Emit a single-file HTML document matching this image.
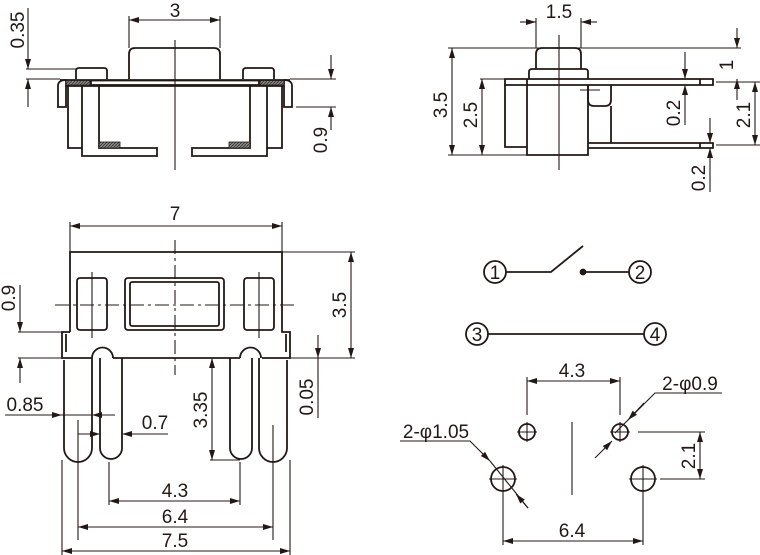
<!DOCTYPE html>
<html><head><style>
html,body{margin:0;padding:0;background:#fff;}
svg{display:block;}
text{font-family:"Liberation Sans",Arial,sans-serif;font-size:19px;fill:#231815;}
</style></head><body>
<svg width="760" height="555" viewBox="0 0 760 555" xmlns="http://www.w3.org/2000/svg">
<defs>
<marker id="a" viewBox="0 0 10 6" refX="10" refY="3" markerWidth="11" markerHeight="6" orient="auto-start-reverse" markerUnits="userSpaceOnUse"><path d="M0,0 L10,3 L0,6 z" fill="#231815"/></marker>
<pattern id="h" width="3" height="3" patternUnits="userSpaceOnUse"><rect width="3" height="3" fill="#888"/><path d="M0,3 L3,0" stroke="#333" stroke-width="0.8"/></pattern>
</defs>
<g fill="none" stroke="#231815" stroke-width="1.8">
<!-- TOP LEFT VIEW -->
<path d="M129,79 V54 Q129,48 135,48 H214 Q220,48 220,54 V79"/>
<path d="M76,79 V71 Q76,68 79,68 H104 Q107,68 107,71 V79 M243,79 V71 Q243,68 246,68 H271 Q274,68 274,71 V79"/>
<path d="M60,80 H290 M66,80 V86 H284 V80"/>
<path d="M66,80 Q58,80 58,86 V107 H66 V86 M284,80 Q292,80 292,86 V107 H284 V86"/>
<rect x="91" y="80.5" width="168" height="4.5"/>
<path d="M68,86 V148 H82 M282,86 V148 H267"/>
<path d="M82,86 V156 H157 V148 H99 V86 M267,86 V156 H192 V148 H250 V86"/>
<rect x="66" y="80.5" width="24" height="4.5" fill="url(#h)" stroke-width="0.8"/>
<rect x="260" y="80.5" width="24" height="4.5" fill="url(#h)" stroke-width="0.8"/>
<rect x="99" y="142" width="21" height="6" fill="url(#h)" stroke-width="0.8"/>
<rect x="229" y="142" width="21" height="6" fill="url(#h)" stroke-width="0.8"/>
<g stroke-width="1.1">
<path d="M175,40 V170"/>
<path d="M129,16 V48 M220,16 V48"/>
<path d="M129,20 H220" marker-start="url(#a)" marker-end="url(#a)"/>
<path d="M26,69 H76 M26,79 H60"/>
<path d="M28,8 V69" marker-end="url(#a)"/><path d="M28,107 V79" marker-end="url(#a)"/>
<path d="M290,79 H336 M296,107 H336"/>
<path d="M331,55 V79" marker-end="url(#a)"/><path d="M331,130 V107" marker-end="url(#a)"/>
</g>

<!-- TOP RIGHT VIEW -->
<path d="M536,69 V54 Q536,48 542,48 H575 Q581,48 581,54 V69"/>
<path d="M529,79 V72 Q529,69 532,69 H585 Q588,69 588,72 V79"/>
<path d="M505,79 H713 V85 H505 Z M700,79 V85"/>
<path d="M505,85 V147 H527 M527,79 V155 H588 V85"/>
<path d="M588,85 V100 Q588,106 594,106 H605 Q611,106 611,100 V85 M611,106 V143"/>
<path d="M588,143 H713 V148 H588 M700,143 V148"/>
<g stroke-width="1.1">
<path d="M559,35 V170 M580,90 H600"/>
<path d="M536,18 V48 M581,18 V48"/>
<path d="M520,22 H536" marker-end="url(#a)"/><path d="M597,22 H581" marker-end="url(#a)"/>
<path d="M448,48 H741 M448,155 H527 M480,79 H505"/>
<path d="M452,48 V155" marker-start="url(#a)" marker-end="url(#a)"/>
<path d="M482,79 V155" marker-start="url(#a)" marker-end="url(#a)"/>
<path d="M685,52 V79" marker-end="url(#a)"/><path d="M685,125 V85" marker-end="url(#a)"/>
<path d="M737,28 V48" marker-end="url(#a)"/><path d="M737,100 V79" marker-end="url(#a)"/>
<path d="M716,82 H760 M716,145 H760"/>
<path d="M755,82 V145" marker-start="url(#a)" marker-end="url(#a)"/>
<path d="M710,118 V143" marker-end="url(#a)"/><path d="M710,192 V148" marker-end="url(#a)"/>
</g>

<!-- BOTTOM LEFT VIEW -->
<path d="M70,332 V252 H282 V332 H290 V358 H262 M70,332 H62 V358 H92"/>
<path d="M113,358 H240"/>
<rect x="77" y="278" width="30" height="52" rx="3"/>
<rect x="244" y="278" width="30" height="52" rx="3"/>
<rect x="125" y="278" width="99" height="52" rx="3"/>
<rect x="130" y="282" width="89" height="44" rx="2"/>
<path d="M92,358 A10.5,10.5 0 0 1 113,358 M240,358 A10.5,10.5 0 0 1 261,358"/>
<path d="M64,360 V448 A14,14 0 0 0 92,448 V358 M100,358 V448 A11,11 0 0 0 122,448 V358"/>
<path d="M230,358 V448 A11,11 0 0 0 252,448 V358 M259,358 V448 A14,14 0 0 0 287,448 V360"/>
<path d="M66,334 V352 M286,334 V352"/>
<g stroke-width="1.1">
<path d="M55,305 H297" stroke-dasharray="14,4,3,4"/>
<path d="M175,240 V375" stroke-dasharray="14,4,3,4"/>
<path d="M92,272 V338 M259,272 V338"/>
<path d="M70,222 V252 M282,222 V252"/>
<path d="M70,226 H282" marker-start="url(#a)" marker-end="url(#a)"/>
<path d="M282,252 H355 M262,358 H355"/>
<path d="M351,252 V358" marker-start="url(#a)" marker-end="url(#a)"/>
<path d="M18,332 H62 M18,358 H62"/>
<path d="M20,285 V332" marker-end="url(#a)"/><path d="M20,383 V358" marker-end="url(#a)"/>
<path d="M318,335 V358" marker-end="url(#a)"/><path d="M318,418 V358"/>
<path d="M300,358 H325"/>
<path d="M5,415 H62" marker-end="url(#a)"/><path d="M115,415 H92" marker-end="url(#a)"/><path d="M62,415 H92"/>
<path d="M168,434 H122" marker-end="url(#a)"/><path d="M78,434 H100" marker-end="url(#a)"/>
<path d="M212,358 V460" marker-start="url(#a)" marker-end="url(#a)"/>
<path d="M210,460 H240"/>
<path d="M78,420 V540 M109,462 V505 M240,462 V505 M273,425 V540 M62,460 V555 M290,460 V555"/>
<path d="M109,501 H240" marker-start="url(#a)" marker-end="url(#a)"/>
<path d="M78,527 H273" marker-start="url(#a)" marker-end="url(#a)"/>
<path d="M62,551 H290" marker-start="url(#a)" marker-end="url(#a)"/>
</g>

<!-- SCHEMATIC -->
<circle cx="495" cy="272" r="11"/><circle cx="640" cy="272" r="11"/>
<circle cx="477" cy="334" r="11"/><circle cx="655" cy="334" r="11"/>
<path d="M506,272 H551 L583,246 M583,272 H629 M488,334 H644"/>
<circle cx="583" cy="272" r="2.5" fill="#231815"/>

<!-- FOOTPRINT -->
<circle cx="527" cy="432" r="8"/><circle cx="620" cy="432" r="8"/>
<circle cx="503" cy="479" r="12"/><circle cx="643" cy="479" r="12"/>
<g stroke-width="1.1">
<path d="M517,432 H537 M527,422 V442 M610,432 H630 M620,422 V442"/>
<path d="M489,479 H517 M503,465 V493 M629,479 H657 M643,465 V493"/>
<path d="M572,422 V495"/>
<path d="M527,377 V415 M620,377 V415"/>
<path d="M527,381 H620" marker-start="url(#a)" marker-end="url(#a)"/>
<path d="M722,393 H655 L632,416" /><path d="M632,416 L615,433"/>
<path d="M644,403 L628,420" marker-end="url(#a)"/>
<path d="M595,458 L612,441" marker-end="url(#a)"/>
<path d="M400,441 H470 L490,461" marker-end="url(#a)"/>
<path d="M490,461 L528,508"/>
<path d="M528,508 L516,494" marker-end="url(#a)"/>
<path d="M638,432 H705 M660,479 H705"/>
<path d="M700,432 V479" marker-start="url(#a)" marker-end="url(#a)"/>
<path d="M503,493 V545 M643,493 V545"/>
<path d="M503,541 H643" marker-start="url(#a)" marker-end="url(#a)"/>
</g>
</g>

<!-- TEXT -->
<text x="175" y="17" text-anchor="middle">3</text>
<text transform="translate(24,30) rotate(-90)" text-anchor="middle">0.35</text>
<text transform="translate(327,140) rotate(-90)" text-anchor="middle">0.9</text>
<text x="559" y="18" text-anchor="middle">1.5</text>
<text transform="translate(447,105) rotate(-90)" text-anchor="middle">3.5</text>
<text transform="translate(477,115) rotate(-90)" text-anchor="middle">2.5</text>
<text transform="translate(680,113) rotate(-90)" text-anchor="middle">0.2</text>
<text transform="translate(733,65) rotate(-90)" text-anchor="middle">1</text>
<text transform="translate(750,115) rotate(-90)" text-anchor="middle">2.1</text>
<text transform="translate(705,178) rotate(-90)" text-anchor="middle">0.2</text>
<text x="175" y="220" text-anchor="middle">7</text>
<text transform="translate(346,305) rotate(-90)" text-anchor="middle">3.5</text>
<text transform="translate(15,298) rotate(-90)" text-anchor="middle">0.9</text>
<text transform="translate(313,397) rotate(-90)" text-anchor="middle">0.05</text>
<text x="25" y="411" text-anchor="middle">0.85</text>
<text x="155" y="429" text-anchor="middle">0.7</text>
<text transform="translate(207,410) rotate(-90)" text-anchor="middle">3.35</text>
<text x="175" y="497" text-anchor="middle">4.3</text>
<text x="175" y="523" text-anchor="middle">6.4</text>
<text x="175" y="547" text-anchor="middle">7.5</text>
<text x="495" y="279" text-anchor="middle" font-size="19">1</text>
<text x="640" y="279" text-anchor="middle" font-size="19">2</text>
<text x="477" y="341" text-anchor="middle" font-size="19">3</text>
<text x="655" y="341" text-anchor="middle" font-size="19">4</text>
<text x="572" y="377" text-anchor="middle">4.3</text>
<text x="690" y="390" text-anchor="middle">2-φ0.9</text>
<text x="436" y="438" text-anchor="middle">2-φ1.05</text>
<text transform="translate(695,456) rotate(-90)" text-anchor="middle">2.1</text>
<text x="572" y="537" text-anchor="middle">6.4</text>
</svg>
</body></html>
